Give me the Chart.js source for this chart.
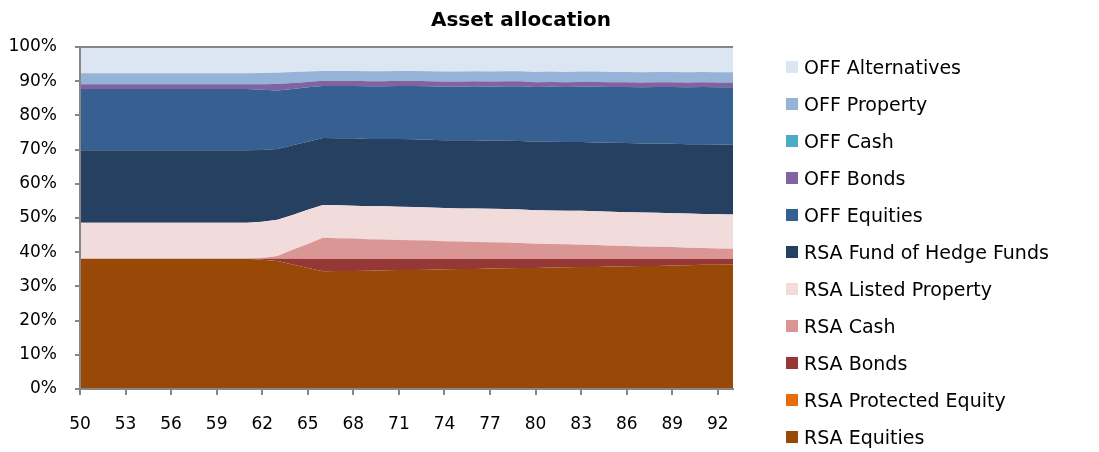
<!DOCTYPE html>
<html>
<head>
<meta charset="utf-8">
<title>Asset allocation</title>
<script src="https://cdn.jsdelivr.net/npm/chart.js@4.4.0/dist/chart.umd.min.js"></script>
<style>
  body { margin: 0; background: #fff; }
  #wrap { position: relative; width: 1099px; height: 452px; font-family: 'DejaVu Sans', sans-serif; color: #000; }
  #allocChart { position: absolute; left: 0; top: 0; }
  #title { position: absolute; left: 0; width: 1042px; top: 7px; text-align: center; font-weight: bold; font-size: 20px; }
  #legend { position: absolute; left: 786px; top: 48px; }
  .item { height: 37px; display: flex; align-items: center; font-size: 19px; white-space: nowrap; }
  .box { width: 12px; height: 12px; margin-right: 6px; }
</style>
</head>
<body>
<div id="wrap">
  <canvas id="allocChart" width="1099" height="452"></canvas>
  <div id="title">Asset allocation</div>
  <div id="legend"></div>
</div>
<script>
// Age of the member, one point per year
const ages = ['50','51','52','53','54','55','56','57','58','59','60','61','62','63','64','65',
  '66','67','68','69','70','71','72','73','74','75','76','77','78','79','80','81','82','83','84',
  '85','86','87','88','89','90','91','92','93'];

// Share of the portfolio in each asset class (%)
const rsaEquities = [38.1,38.1,38.1,38.1,38.1,38.1,38.1,38.1,38.1,38.1,38.1,38.1,37.8,37.4,36.4,35.4,
  34.4,34.5,34.5,34.6,34.7,34.8,34.8,34.9,35.0,35.1,35.1,35.2,35.3,35.4,35.4,35.5,35.6,35.7,35.7,
  35.8,35.9,36.0,36.0,36.1,36.2,36.3,36.3,36.4];
const rsaProtectedEquity = [0,0,0,0,0,0,0,0,0,0,0,0,0,0,0,0,
  0,0,0,0,0,0,0,0,0,0,0,0,0,0,0,0,0,0,0,0,0,0,0,0,0,0,0,0];
const rsaBonds = [0,0,0,0,0,0,0,0,0,0,0,0,0.3,0.7,1.7,2.6,
  3.6,3.5,3.5,3.4,3.3,3.2,3.2,3.1,3.0,2.9,2.9,2.8,2.7,2.6,2.6,2.5,2.4,2.3,2.3,
  2.2,2.1,2.0,2.0,1.9,1.8,1.7,1.7,1.6];
const rsaCash = [0,0,0,0,0,0,0,0,0,0,0,0,0.2,0.8,2.6,4.4,
  6.2,6.1,6.0,5.8,5.7,5.6,5.5,5.4,5.2,5.1,5.0,4.9,4.8,4.7,4.5,4.4,4.3,4.2,4.1,
  3.9,3.8,3.7,3.6,3.5,3.3,3.2,3.1,3.0];
const rsaListedProperty = [10.5,10.5,10.5,10.5,10.5,10.5,10.5,10.5,10.5,10.5,10.5,10.5,10.6,10.6,10.2,10.0,
  9.6,9.6,9.6,9.6,9.7,9.7,9.7,9.7,9.7,9.7,9.8,9.8,9.8,9.8,9.8,9.8,9.8,9.9,9.9,
  9.9,9.9,9.9,9.9,9.9,10.0,10.0,10.0,10.0];
const rsaHedgeFunds = [21.2,21.2,21.2,21.2,21.2,21.2,21.2,21.2,21.2,21.2,21.2,21.2,21.0,20.7,20.4,19.9,
  19.6,19.6,19.7,19.7,19.7,19.8,19.8,19.8,19.8,19.9,19.9,19.9,20.0,20.0,20.0,20.1,20.1,20.1,20.1,
  20.2,20.2,20.2,20.3,20.3,20.3,20.4,20.4,20.4];
const offEquities = [17.9,17.9,17.9,17.9,17.9,17.9,17.9,17.9,17.9,17.9,17.9,17.9,17.6,17.1,16.4,15.9,
  15.2,15.3,15.3,15.4,15.4,15.5,15.6,15.6,15.7,15.7,15.8,15.8,15.9,16.0,16.0,16.1,16.1,16.2,16.3,
  16.3,16.4,16.4,16.5,16.6,16.6,16.7,16.7,16.8];
const offBonds = [1.4,1.4,1.4,1.4,1.4,1.4,1.4,1.4,1.4,1.4,1.4,1.4,1.6,1.9,1.8,1.6,
  1.5,1.5,1.5,1.5,1.5,1.5,1.5,1.5,1.5,1.5,1.5,1.5,1.5,1.5,1.4,1.4,1.4,1.4,1.4,
  1.4,1.4,1.4,1.4,1.4,1.4,1.4,1.4,1.4];
const offCash = [0,0,0,0,0,0,0,0,0,0,0,0,0,0,0,0,
  0,0,0,0,0,0,0,0,0,0,0,0,0,0,0,0,0,0,0,0,0,0,0,0,0,0,0,0];
const offProperty = [3.2,3.2,3.2,3.2,3.2,3.2,3.2,3.2,3.2,3.2,3.2,3.2,3.3,3.3,3.2,3.0,
  2.9,2.9,2.9,2.9,2.9,2.9,2.9,2.9,2.9,2.9,2.9,2.9,2.9,2.9,3.0,3.0,3.0,3.0,3.0,
  3.0,3.0,3.0,3.0,3.0,3.0,3.0,3.0,3.0];
const offAlternatives = [7.7,7.7,7.7,7.7,7.7,7.7,7.7,7.7,7.7,7.7,7.7,7.7,7.6,7.5,7.3,7.2,
  7.0,7.0,7.0,7.1,7.1,7.0,7.0,7.1,7.2,7.2,7.1,7.2,7.1,7.1,7.3,7.2,7.3,7.2,7.2,
  7.3,7.3,7.4,7.3,7.3,7.4,7.3,7.4,7.4];

// Stack order, bottom first
const seriesNames = ['RSA Equities', 'RSA Protected Equity', 'RSA Bonds', 'RSA Cash',
  'RSA Listed Property', 'RSA Fund of Hedge Funds', 'OFF Equities', 'OFF Bonds',
  'OFF Cash', 'OFF Property', 'OFF Alternatives'];
const seriesData = [rsaEquities, rsaProtectedEquity, rsaBonds, rsaCash, rsaListedProperty,
  rsaHedgeFunds, offEquities, offBonds, offCash, offProperty, offAlternatives];
const seriesColors = ['#984807', '#e46c0a', '#953735', '#da9694', '#f2dcdb', '#254061',
  '#366092', '#8064a2', '#4bacc6', '#95b3d7', '#dce6f2'];

const fontFamily = "'DejaVu Sans', sans-serif";
const axisGrey = '#868686';

const datasets = seriesNames.map(function(name, i) {
    return {
        label: name,
        data: seriesData[i],
        backgroundColor: seriesColors[i],
        borderColor: seriesColors[i],
        borderWidth: 0,
        pointRadius: 0,
        tension: 0,
        fill: i === 0 ? 'origin' : '-1'
    };
});

const chart = new Chart(document.getElementById('allocChart').getContext('2d'), {
    type: 'line',
    data: { labels: ages, datasets: datasets },
    options: {
        responsive: false,
        animation: false,
        layout: { padding: { top: 47, right: 366, bottom: 0, left: 0 } },
        plugins: {
            legend: { display: false },
            title: { display: false },
            tooltip: { enabled: false }
        },
        scales: {
            x: {
                offset: false,
                grid: { drawOnChartArea: false, color: axisGrey, tickLength: 6, lineWidth: 2 },
                // axis lines sit on top of the filled areas
                border: { color: axisGrey, width: 2, z: 2 },
                ticks: {
                    autoSkip: false,
                    maxRotation: 0,
                    padding: 19,
                    color: '#000',
                    font: { family: fontFamily, size: 17 },
                    // label every third year
                    callback: function(value, index) {
                        return index % 3 === 0 ? this.getLabelForValue(value) : null;
                    }
                },
                afterFit: function(scale) { scale.height = 63; }
            },
            y: {
                stacked: true,
                min: 0,
                max: 100,
                grid: {
                    z: 1,
                    // only the 100% line shows across the plot
                    color: function(ctx) { return ctx.tick && ctx.tick.value === 100 ? axisGrey : 'rgba(0,0,0,0)'; },
                    tickColor: axisGrey,
                    lineWidth: 2,
                    tickLength: 5
                },
                border: { color: axisGrey, width: 2, z: 2 },
                ticks: {
                    stepSize: 10,
                    padding: 18,
                    color: '#000',
                    font: { family: fontFamily, size: 17 },
                    callback: function(value) { return value + '%'; }
                },
                afterFit: function(scale) { scale.width = 80; }
            }
        }
    }
});

// Legend, top entry is the top of the stack
const legendEl = document.getElementById('legend');
chart.data.datasets.slice().reverse().forEach(function(ds) {
    const item = document.createElement('div');
    item.className = 'item';
    const box = document.createElement('span');
    box.className = 'box';
    box.style.background = ds.backgroundColor;
    const text = document.createElement('span');
    text.textContent = ds.label;
    item.appendChild(box);
    item.appendChild(text);
    legendEl.appendChild(item);
});
</script>
</body>
</html>
